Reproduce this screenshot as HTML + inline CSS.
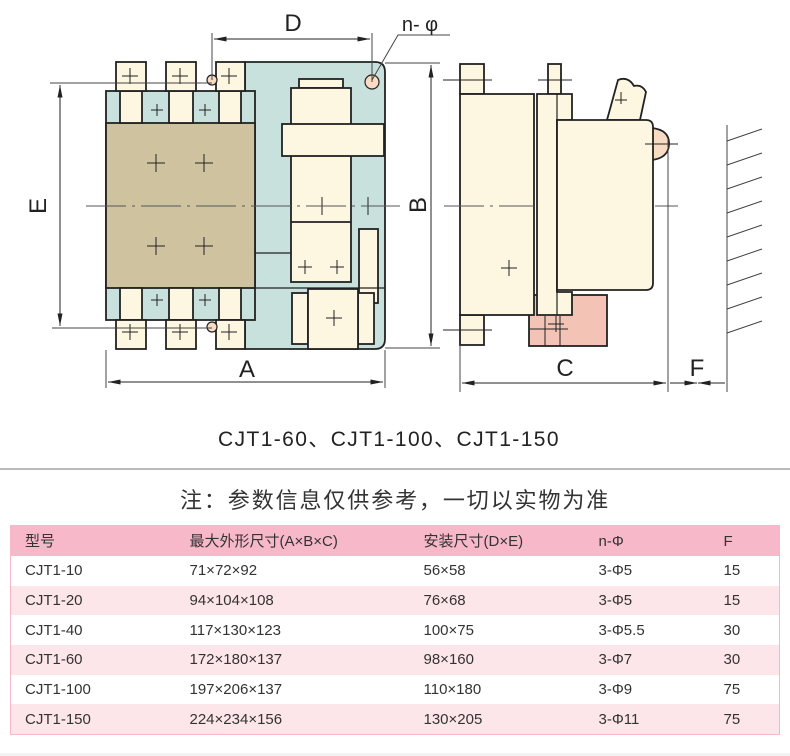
<!DOCTYPE html>
<html><head><meta charset="utf-8"><style>
body{margin:0;width:790px;height:756px;background:#fff;overflow:hidden;font-family:"Liberation Sans","Noto Sans CJK SC",sans-serif;}
svg{position:absolute;left:0;top:0}
.t{position:absolute;white-space:nowrap;color:#222}
table{position:absolute;left:10px;top:525px;width:770px;border-collapse:collapse;font-size:15px;color:#333;border:1px solid #f4b8c8}
td{height:29.7px;padding:0;line-height:29px}
tr.h td{background:#f7b8c9;height:30px}
tr.a td{background:#fde6ea}
</style></head><body>
<svg width="790" height="470" viewBox="0 0 790 470">
<defs><marker id="ar" viewBox="0 0 10 4" refX="10" refY="2" markerWidth="14" markerHeight="5" orient="auto-start-reverse"><path d="M0,0 L10,2 L0,4Z" fill="#222"/></marker></defs>
<g stroke="#222" stroke-width="1.8">
<path d="M245,62 H375 Q385,62 385,72 V339 Q385,349 375,349 H245 Z" fill="#c9e1dc"/>
<rect x="106" y="91" width="149" height="229" fill="#c9e1dc"/>
<rect x="106" y="123" width="149" height="165" fill="#cfc29f"/>
<g fill="#fdf6e0">
<rect x="120" y="91" width="22" height="32"/><rect x="169" y="91" width="24" height="32"/><rect x="219" y="91" width="22" height="32"/>
<rect x="120" y="288" width="22" height="32"/><rect x="169" y="288" width="24" height="32"/><rect x="219" y="288" width="22" height="32"/>
<rect x="116" y="62" width="30" height="29"/><rect x="166" y="62" width="30" height="29"/><rect x="216" y="62" width="29" height="29"/>
<rect x="116" y="320" width="30" height="29"/><rect x="166" y="320" width="30" height="29"/><rect x="216" y="320" width="29" height="29"/>
<rect x="299" y="79" width="44" height="9"/>
<rect x="291" y="88" width="60" height="194"/>
<rect x="282" y="124" width="102" height="32"/>
<rect x="359" y="229" width="19" height="74"/>
<rect x="292" y="293" width="16" height="51"/>
<rect x="358" y="293" width="16" height="51"/>
<rect x="308" y="289" width="50" height="60"/>
</g>
<line x1="291" y1="222" x2="351" y2="222"/>
<line x1="255" y1="253" x2="291" y2="253" stroke-width="1.2"/>
<line x1="255" y1="288" x2="385" y2="288" stroke-width="1.2"/>
<circle cx="212" cy="80" r="5" fill="#f7dcc3" stroke-width="1.2"/>
<circle cx="212" cy="327" r="5" fill="#f7dcc3" stroke-width="1.2"/>
<circle cx="372" cy="82" r="7" fill="#f7dcc3" stroke-width="1.2"/>
<rect x="460" y="64" width="24" height="30" fill="#fdf6e0"/>
<rect x="460" y="315" width="24" height="30" fill="#fdf6e0"/>
<rect x="548" y="64" width="13" height="30" fill="#fdf6e0"/>
<rect x="529" y="295" width="78" height="51" fill="#f3c4b6"/>
<rect x="460" y="94" width="74" height="221" fill="#fdf6e0"/>
<path d="M537,94 H572 V120 H557 V292 H572 V315 H537 Z" fill="#fdf6e0"/>
<line x1="557" y1="94" x2="557" y2="315" stroke-width="1.2"/>
<path d="M607,120 L618,80 Q628,76 634,86 Q642,84 646,92 L640,120 Z" fill="#fdf6e0"/>
<path d="M652,128 Q670,130 669,145 Q668,158 652,160 Z" fill="#f7dcc3"/>
<path d="M557,120 H646 Q653,120 653,127 V283 Q653,290 646,290 H557 Z" fill="#fdf6e0"/>
</g>
<g stroke="#222" stroke-width="1" fill="none">
<path d="M122,76h16M130,68v16M172,76h16M180,68v16M221,76h16M229,68v16M151,110h12M157,104v12M199,110h12M205,104v12M147,163h18M156,154v18M195,163h18M204,154v18M147,246h18M156,237v18M195,246h18M204,237v18M151,300h12M157,294v12M199,300h12M205,294v12M122,332h16M130,324v16M172,332h16M180,324v16M221,332h16M229,324v16M315,206h14M322,197v18M361,206h14M368,197v18M298,267h14M305,260v14M330,267h14M337,260v14M326,318h16M334,310v16M501,268h16M509,260v16M548,324h16M556,316v16M530,329h38M545,316v30M560,316v30M615,100h12M621,92v12"/>
<line x1="443" y1="80" x2="492" y2="80"/><line x1="443" y1="330" x2="492" y2="330"/><line x1="538" y1="80" x2="572" y2="80"/><line x1="645" y1="144" x2="678" y2="144"/>
<g stroke="#555"><path d="M86,206 H400" stroke-dasharray="40 6 3 6"/><path d="M444,206 H534" stroke-dasharray="40 6 3 6"/><line x1="655" y1="206" x2="678" y2="206"/></g>
<g stroke="#444">
<line x1="212" y1="33" x2="212" y2="80"/><line x1="372" y1="33" x2="372" y2="82"/>
<line x1="50" y1="83" x2="212" y2="83"/><line x1="52" y1="328" x2="212" y2="328"/>
<line x1="106" y1="350" x2="106" y2="388"/><line x1="385" y1="350" x2="385" y2="388"/>
<line x1="385" y1="63" x2="440" y2="63"/><line x1="385" y1="348" x2="440" y2="348"/>
<line x1="460" y1="345" x2="460" y2="392"/><line x1="668" y1="140" x2="668" y2="392"/><line x1="727" y1="125" x2="727" y2="392"/>
<polyline points="372,80 398,35 450,35"/>
</g>
<line x1="214" y1="39" x2="370" y2="39" marker-start="url(#ar)" marker-end="url(#ar)"/>
<line x1="60" y1="85" x2="60" y2="326" marker-start="url(#ar)" marker-end="url(#ar)"/>
<line x1="108" y1="382" x2="383" y2="382" marker-start="url(#ar)" marker-end="url(#ar)"/>
<line x1="431" y1="65" x2="431" y2="346" marker-start="url(#ar)" marker-end="url(#ar)"/>
<line x1="462" y1="383" x2="666" y2="383" marker-start="url(#ar)" marker-end="url(#ar)"/>
<line x1="670" y1="383" x2="697" y2="383" marker-end="url(#ar)"/><line x1="725" y1="383" x2="698" y2="383" marker-end="url(#ar)"/>
<path d="M727,141L762,129M727,165L762,153M727,189L762,177M727,213L762,201M727,237L762,225M727,261L762,249M727,285L762,273M727,309L762,297M727,333L762,321" stroke="#444"/>
</g>
<g font-family="Liberation Sans,sans-serif" font-size="24" fill="#222" text-anchor="middle">
<text x="293" y="31">D</text><text x="247" y="377">A</text><text x="565" y="376">C</text><text x="697" y="376">F</text>
<text x="420" y="31" font-size="20">n- φ</text>
<text transform="translate(46,206) rotate(-90)">E</text>
<text transform="translate(426,205) rotate(-90)">B</text>
</g>
<line x1="0" y1="469" x2="790" y2="469" stroke="#bbb" stroke-width="2"/>
</svg>
<div class="t" style="left:218px;top:423px;font-size:21px;letter-spacing:1.4px">CJT1-60、CJT1-100、CJT1-150</div>
<div class="t" style="left:180px;top:483px;font-size:22px;letter-spacing:1.9px;color:#333">注：参数信息仅供参考，一切以实物为准</div>
<table>
<colgroup><col style="width:179px"><col style="width:234px"><col style="width:175px"><col style="width:125px"><col></colgroup>
<tr class="h"><td style="padding-left:14px">型号</td><td>最大外形尺寸(A×B×C)</td><td>安装尺寸(D×E)</td><td>n-Φ</td><td>F</td></tr>
<tr><td style="padding-left:14px">CJT1-10</td><td>71×72×92</td><td>56×58</td><td>3-Φ5</td><td>15</td></tr>
<tr class="a"><td style="padding-left:14px">CJT1-20</td><td>94×104×108</td><td>76×68</td><td>3-Φ5</td><td>15</td></tr>
<tr><td style="padding-left:14px">CJT1-40</td><td>117×130×123</td><td>100×75</td><td>3-Φ5.5</td><td>30</td></tr>
<tr class="a"><td style="padding-left:14px">CJT1-60</td><td>172×180×137</td><td>98×160</td><td>3-Φ7</td><td>30</td></tr>
<tr><td style="padding-left:14px">CJT1-100</td><td>197×206×137</td><td>110×180</td><td>3-Φ9</td><td>75</td></tr>
<tr class="a"><td style="padding-left:14px">CJT1-150</td><td>224×234×156</td><td>130×205</td><td>3-Φ11</td><td>75</td></tr>
</table>
<div style="position:absolute;left:0;top:753px;width:790px;height:3px;background:#f2f2f2"></div>
</body></html>
